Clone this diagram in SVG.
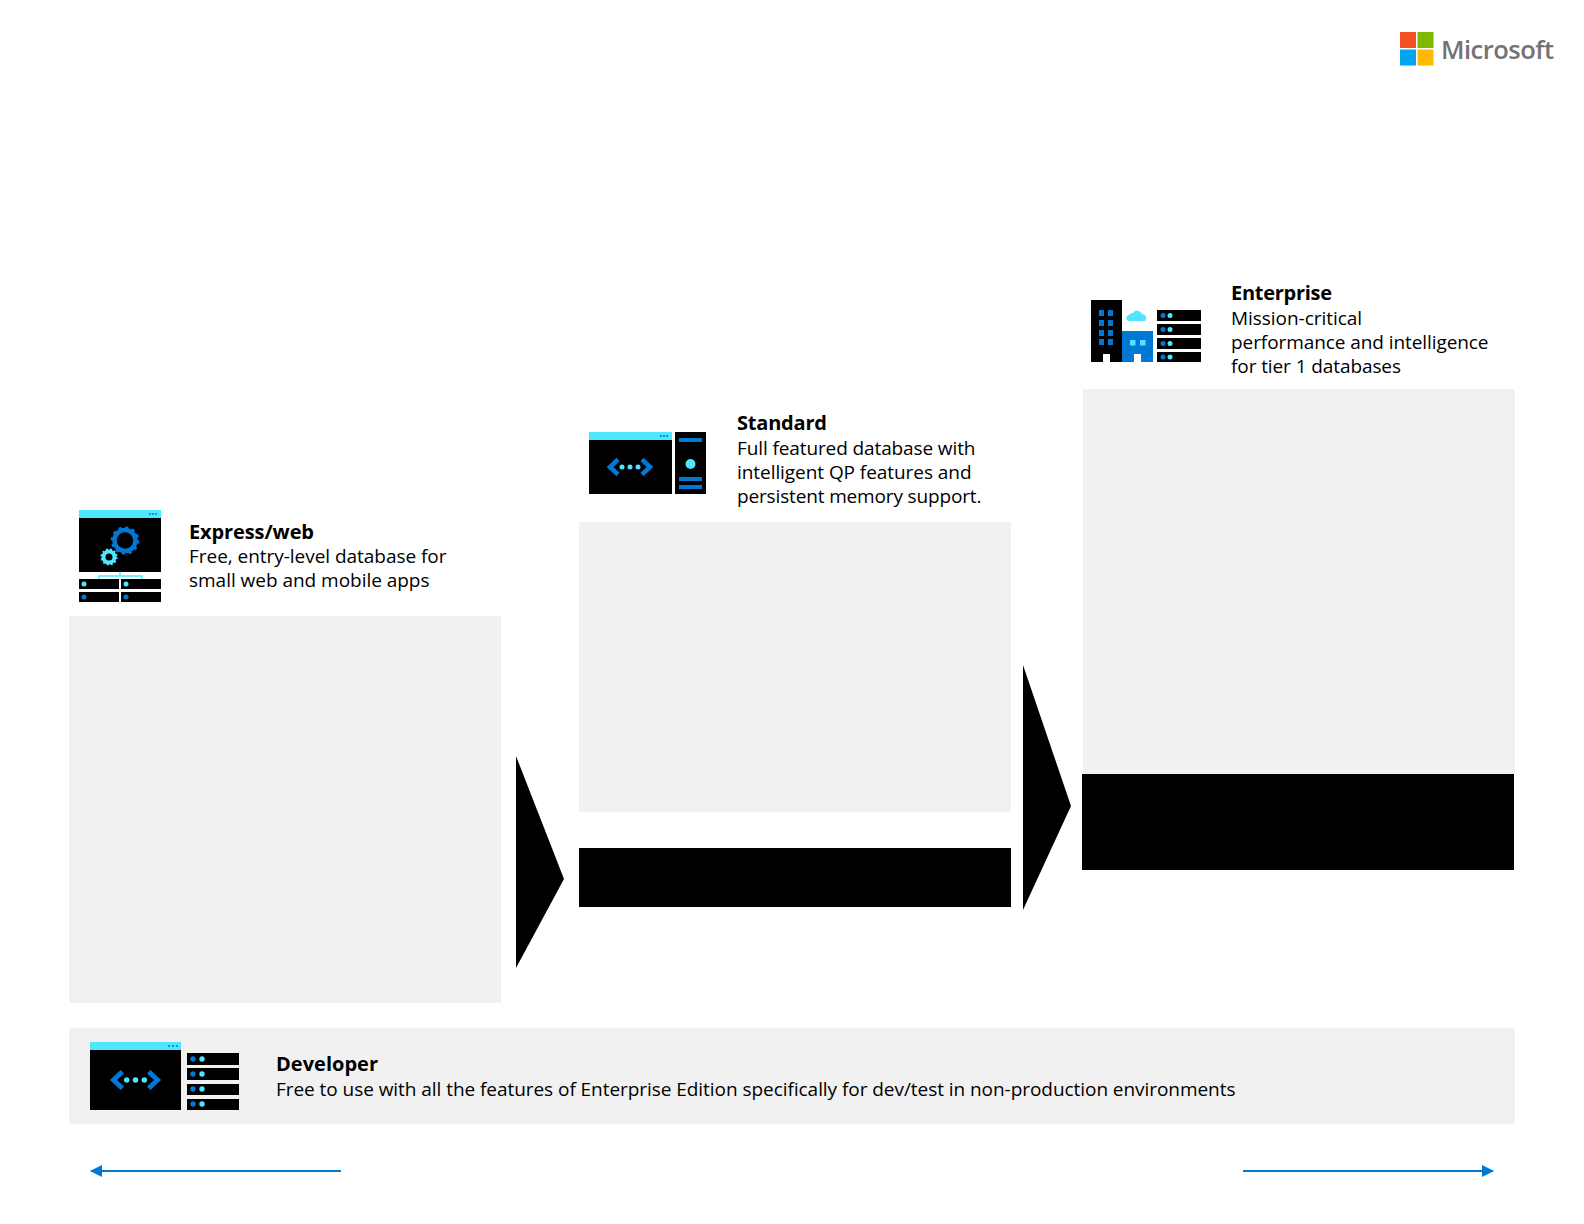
<svg xmlns="http://www.w3.org/2000/svg" width="1584" height="1224" viewBox="0 0 1584 1224">
<style>
.t{font-family:"Open Sans","Noto Sans","Liberation Sans",sans-serif;font-size:19px;fill:#000}
.b{font-weight:700;font-size:20px}
.p{fill:#f1f1f1}.k{fill:#000}.c{fill:#50e6ff}.d{fill:#0078d4}
</style>
<defs>
<g id="code">
<path d="M-12 -7.500L-20 0L-12 7.500M12 -7.500L20 0L12 7.500" fill="none" stroke="#0078d4" stroke-width="4.500"/>
<circle class="c" cx="-8" cy="0" r="2.500"/><circle class="c" cx="0" cy="0" r="2.500"/><circle class="c" cx="8" cy="0" r="2.500"/>
</g>
<marker id="ah" markerWidth="12" markerHeight="12" refX="11" refY="6" orient="auto-start-reverse" markerUnits="userSpaceOnUse"><path d="M0 0L12 6L0 12Z" fill="#0078d4"/></marker>
</defs>
<rect width="1584" height="1224" fill="#fff"/>

<g id="logo">
<rect x="1400" y="32" width="16" height="16" fill="#f25022"/>
<rect x="1417.500" y="32" width="16" height="16" fill="#7fba00"/>
<rect x="1400" y="49.500" width="16" height="16" fill="#00a4ef"/>
<rect x="1417.500" y="49.500" width="16" height="16" fill="#ffb900"/>
<text x="1441" y="59" font-family="'Open Sans','Noto Sans',sans-serif" font-size="25.500" font-weight="600" fill="#737373" textLength="113" lengthAdjust="spacing">Microsoft</text>
</g>

<g id="express">
<rect class="p" x="69" y="616" width="432" height="387"/>
<rect class="k" x="79" y="510" width="82" height="62"/><rect class="c" x="79" y="510" width="82" height="8"/>
<g class="d"><circle cx="150" cy="514" r="1"/><circle cx="153" cy="514" r="1"/><circle cx="156" cy="514" r="1"/></g>
<circle cx="125" cy="540.500" r="10.500" fill="none" stroke="#0078d4" stroke-width="4.500"/>
<circle cx="125" cy="540.500" r="13" fill="none" stroke="#0078d4" stroke-width="2.500" stroke-dasharray="3 3.800"/>
<circle cx="109" cy="557" r="5.500" fill="none" stroke="#50e6ff" stroke-width="4"/>
<circle cx="109" cy="557" r="7.500" fill="none" stroke="#50e6ff" stroke-width="2" stroke-dasharray="2 2"/>
<path d="M99 579V576H142V579M120 572V576" fill="none" stroke="#50e6ff" stroke-width="1.500"/>
<rect class="k" x="79" y="579" width="40" height="10"/><rect class="k" x="121" y="579" width="40" height="10"/>
<rect class="k" x="79" y="592" width="40" height="10"/><rect class="k" x="121" y="592" width="40" height="10"/>
<circle class="c" cx="84" cy="584" r="2.500"/><circle class="c" cx="126" cy="584" r="2.500"/>
<circle class="d" cx="84" cy="597" r="2.500"/><circle class="d" cx="126" cy="597" r="2.500"/>
<text class="t b" x="189" y="539" textLength="125" lengthAdjust="spacing">Express/web</text>
<text class="t" x="189" y="563" textLength="257.500" lengthAdjust="spacing">Free, entry-level database for</text>
<text class="t" x="189" y="587" textLength="240.500" lengthAdjust="spacing">small web and mobile apps</text>
</g>

<g id="standard">
<rect class="p" x="579" y="522" width="432" height="290"/>
<rect class="k" x="579" y="848" width="432" height="59"/>
<rect class="k" x="589" y="432" width="83" height="62"/><rect class="c" x="589" y="432" width="83" height="8"/>
<g class="d"><circle cx="661" cy="436" r="1"/><circle cx="664" cy="436" r="1"/><circle cx="667" cy="436" r="1"/></g>
<use href="#code" transform="translate(630 467)"/>
<rect class="k" x="675" y="432" width="31" height="62"/>
<rect class="d" x="679" y="438" width="23" height="4"/>
<circle class="c" cx="690.500" cy="464" r="5"/>
<rect class="d" x="679" y="477" width="23" height="4"/><rect class="d" x="679" y="485" width="23" height="4"/>
<text class="t b" x="737" y="430" textLength="90" lengthAdjust="spacing">Standard</text>
<text class="t" x="737" y="455" textLength="238.500" lengthAdjust="spacing">Full featured database with</text>
<text class="t" x="737" y="479" textLength="234.500" lengthAdjust="spacing">intelligent QP features and</text>
<text class="t" x="737" y="503" textLength="244.500" lengthAdjust="spacing">persistent memory support.</text>
</g>

<g id="enterprise">
<rect class="p" x="1083" y="389" width="432" height="385"/>
<rect class="k" x="1082" y="774" width="432" height="96"/>
<rect class="k" x="1091" y="300" width="31" height="62"/>
<g class="d">
<rect x="1099" y="310" width="5" height="6"/><rect x="1108" y="310" width="5" height="6"/>
<rect x="1099" y="320" width="5" height="6"/><rect x="1108" y="320" width="5" height="6"/>
<rect x="1099" y="330" width="5" height="6"/><rect x="1108" y="330" width="5" height="6"/>
<rect x="1099" y="339" width="5" height="6"/><rect x="1108" y="339" width="5" height="6"/>
</g>
<rect x="1103" y="354" width="7" height="8" fill="#fff"/>
<rect class="d" x="1122" y="331" width="31" height="31"/>
<rect x="1134" y="354" width="7" height="8" fill="#fff"/>
<rect class="c" x="1130" y="340" width="5.500" height="5.500"/><rect class="c" x="1140" y="340" width="5.500" height="5.500"/>
<path class="c" d="M1130 321a3 3 0 0 1 -1 -6a4 4 0 0 1 4 -2a5 5 0 0 1 9 1a4 4 0 0 1 4 5a2 2 0 0 1 -1 2Z"/>
<g class="k"><rect x="1157" y="310" width="44" height="11"/><rect x="1157" y="324" width="44" height="11"/><rect x="1157" y="338" width="44" height="11"/><rect x="1157" y="352" width="44" height="10"/></g>
<g class="d"><circle cx="1163" cy="315.500" r="2.500"/><circle cx="1163" cy="329.500" r="2.500"/><circle cx="1163" cy="343.500" r="2.500"/><circle cx="1163" cy="357" r="2.500"/></g>
<g class="c"><circle cx="1170" cy="315.500" r="2.500"/><circle cx="1170" cy="329.500" r="2.500"/><circle cx="1170" cy="343.500" r="2.500"/><circle cx="1170" cy="357" r="2.500"/></g>
<text class="t b" x="1231" y="300" textLength="101" lengthAdjust="spacing">Enterprise</text>
<text class="t" x="1231" y="325" textLength="131" lengthAdjust="spacing">Mission-critical</text>
<text class="t" x="1231" y="349" textLength="257.500" lengthAdjust="spacing">performance and intelligence</text>
<text class="t" x="1231" y="373" textLength="170" lengthAdjust="spacing">for tier 1 databases</text>
</g>

<g id="developer">
<rect class="p" x="69" y="1028" width="1446" height="96"/>
<rect class="k" x="90" y="1042" width="91" height="68"/><rect class="c" x="90" y="1042" width="91" height="8"/>
<g class="d"><circle cx="169" cy="1046" r="1"/><circle cx="173" cy="1046" r="1"/><circle cx="177" cy="1046" r="1"/></g>
<use href="#code" transform="translate(135.500 1080) scale(1.100)"/>
<g class="k"><rect x="187" y="1053" width="52" height="12"/><rect x="187" y="1068" width="52" height="12"/><rect x="187" y="1084" width="52" height="11"/><rect x="187" y="1099" width="52" height="11"/></g>
<g class="d"><circle cx="193" cy="1059" r="2.700"/><circle cx="193" cy="1074" r="2.700"/><circle cx="193" cy="1089" r="2.700"/><circle cx="193" cy="1104" r="2.700"/></g>
<g class="c"><circle cx="202" cy="1059" r="2.700"/><circle cx="202" cy="1074" r="2.700"/><circle cx="202" cy="1089" r="2.700"/><circle cx="202" cy="1104" r="2.700"/></g>
<text class="t b" x="276" y="1071" textLength="102" lengthAdjust="spacing">Developer</text>
<text class="t" x="276" y="1096" textLength="959.500" lengthAdjust="spacing">Free to use with all the features of Enterprise Edition specifically for dev/test in non-production environments</text>
</g>

<g id="connectors">
<path class="k" d="M516 756L564 879L516 968Z"/>
<path class="k" d="M1023 665L1071 806L1023 910Z"/>
<path d="M341 1171H91" fill="none" stroke="#0078d4" stroke-width="2" marker-end="url(#ah)"/>
<path d="M1243 1171H1493" fill="none" stroke="#0078d4" stroke-width="2" marker-end="url(#ah)"/>
</g>
</svg>
